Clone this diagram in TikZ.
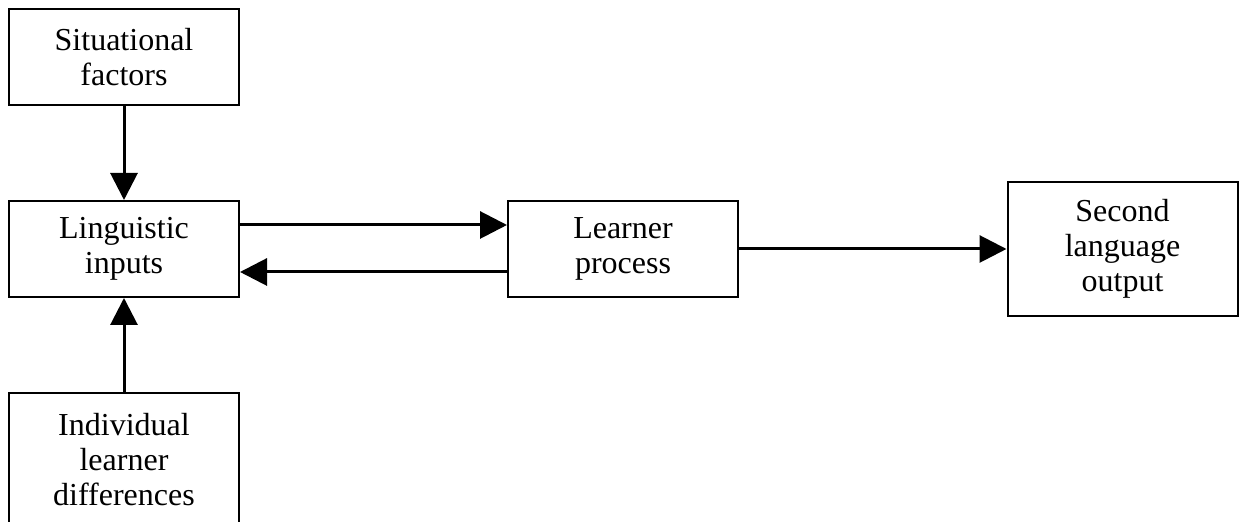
\documentclass[tikz,border=0pt]{standalone}
\usepackage{fontspec}
\setmainfont{Liberation Serif}
\usetikzlibrary{positioning,arrows.meta}

\begin{document}
\begin{tikzpicture}[
    x=0.5pt, y=-0.5pt,
    box/.style={draw, line width=1pt, align=center, inner sep=0pt, minimum width=115pt, minimum height=48pt, font=\fontsize{16}{17.5}\selectfont},
    tallbox/.style={box, minimum height=67pt},
    edge/.style={draw, line width=1.5pt, -{Triangle[length=13.5pt, width=13.5pt]}}
]
\useasboundingbox (0,0) rectangle (1239,522);

% Define node positions
\node[box] (sit) at (124, 57) {Situational\\factors};
\node[box] (ling) at (124, 249) {Linguistic\\inputs};
\node[tallbox] (indiv) at (124, 460) {Individual\\learner\\differences};
\node[box] (proc) at (623, 249) {Learner\\process};
\node[tallbox] (out) at (1122.5, 249) {Second\\language\\output};

% Draw arrows
\draw[edge] (sit) -- (ling);
\draw[edge] (indiv) -- (ling);
\draw[edge] ([yshift=12pt]ling.east) -- ([yshift=12pt]proc.west);
\draw[edge] ([yshift=-11.5pt]proc.west) -- ([yshift=-11.5pt]ling.east);
\draw[edge] (proc) -- (out);

\end{tikzpicture}
\end{document}
